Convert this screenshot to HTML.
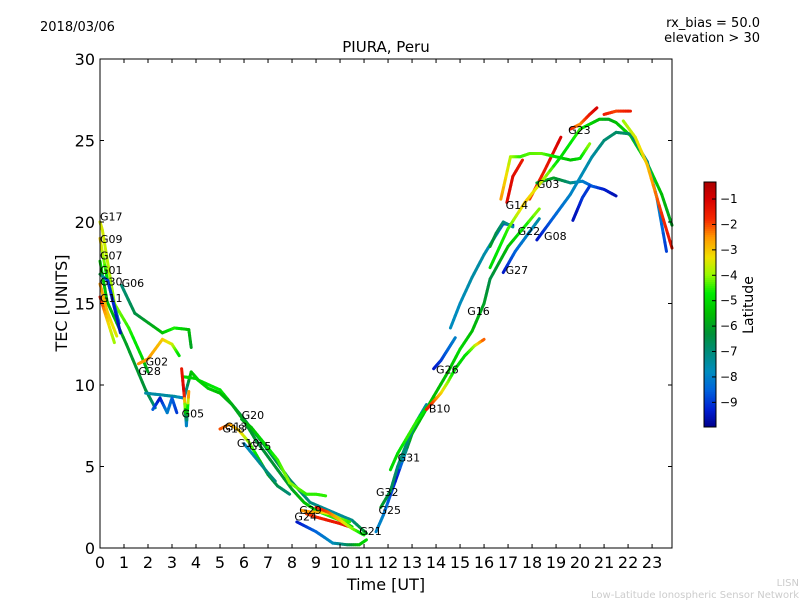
<!DOCTYPE html>
<html><head><meta charset="utf-8"><style>
html,body{margin:0;padding:0;background:#fff;}
svg{display:block;font-family:"DejaVu Sans","Liberation Sans",sans-serif;}
</style></head><body>
<svg id="chart" width="800" height="600" viewBox="0 0 800 600" xmlns="http://www.w3.org/2000/svg">
<rect width="800" height="600" fill="#fff"/>
<text x="40" y="31" font-size="13">2018/03/06</text>
<text x="760" y="27" font-size="13" text-anchor="end">rx_bias = 50.0</text>
<text x="760" y="42" font-size="13" text-anchor="end">elevation &gt; 30</text>
<text x="386" y="52" font-size="15" text-anchor="middle">PIURA, Peru</text>
<text x="386" y="590" font-size="16" text-anchor="middle">Time [UT]</text>
<text x="67" y="303" font-size="16" text-anchor="middle" transform="rotate(-90 67 303)">TEC [UNITS]</text>
<text x="799" y="586" font-size="10" fill="#ccc" text-anchor="end">LISN</text>
<text x="799" y="598" font-size="10" fill="#ccc" text-anchor="end">Low-Latitude Ionospheric Sensor Network</text>
<g id="plot"></g>
<rect x="100" y="59" width="572" height="489" fill="none" stroke="#000" stroke-width="1"/>
<g id="axes"></g>
<g id="cbar"></g>
</svg>
<script>
const xTicks=[0,1,2,3,4,5,6,7,8,9,10,11,12,13,14,15,16,17,18,19,20,21,22,23];
const yTicks=[0,5,10,15,20,25,30];
const cbTicks=[-1,-2,-3,-4,-5,-6,-7,-8,-9];
const trackLabels=["g17","g09","g07","g01","g30","g11","g06","g02","band-a","band-b","g05-a","g05-b","g13","g20","g15","g10-red","g24","g29","g21","g32","g25","g31","g10","g26","g16","g27","g22","g14","g14b","g03","rise-a","g08","g23","g23b","right-desc","blue-short","yellow-top"];
const trackTimes=[
[0,0.1,0.6,1.2,1.75,2],
[0,0.3,0.8],
[0,0.3,1.1,1.9,2.3],
[0,0.33,0.85],
[0,0.3,0.7],
[0,0.3,0.6],
[0.9,1.45,2.6,3.1,3.7,3.8],
[1.6,2,2.6,3,3.3],
[1.9,2.5,3.1,3.5,3.8,4.1,5,5.95,6.8,7.9,8.75,9.7,10.5,11.1],
[3.5,4,4.5,5,5.5,6,6.5,7,7.5,8,8.5,9,9.5,10,10.5],
[2.2,2.5,2.8,3,3.2],
[3.4,3.5,3.6,3.7],
[5,5.4,5.8,6.2,6.6,7,7.4,7.9],
[5.9,6.3,6.8,7.4,7.9,8.6,9,9.4],
[6,6.5,7,7.3],
[8.6,9,9.5,10,10.4],
[8.2,9,9.7,10.3,10.8,11.1],
[8.4,8.8,9.2,9.6,10,10.4],
[9,9.5,10,10.5,11],
[11.5,11.8,12.4,13,13.9,14.5,15,15.5,16,16.25,17,18.3],
[11.7,12.1,12.4,12.8,13.2,13.6],
[12.1,12.4,12.8,13.2,13.6,14],
[13.6,13.9,14.2,14.5,14.8,15.2,15.6,16],
[13.9,14.2,14.5,14.8],
[14.6,15,15.5,16,16.5,16.8,17.2],
[16.8,17.3,17.8,18.3],
[16.25,16.5,16.8,17.2],
[16.95,17.2,17.6],
[17.9,18.5,19.2],
[18.2,18.9,19.6,20.1,20.5,21,21.5],
[16.25,17,17.7,18.3,19.2,20,20.4,20.8,21.2,21.5,22.1,22.8,23.4,23.83],
[18.2,18.9,19.6,20.5,21,21.5,22.1,22.8,23.2,23.6],
[19.6,20,20.4,20.7],
[21,21.5,22.1],
[21.8,22.3,22.8,23.3,23.83],
[19.7,19.9,20.1,20.4],
[16.7,17.1,17.5,17.9,18.4,19,19.6,20,20.4]
];
const trackTec=[
[20,19.5,15,13.5,11.7,10.8],
[19,16.5,13.8],
[17.6,15.1,12.5,9.7,8.6],
[16.8,16.4,13.2],
[16.2,14.5,13],
[15.4,14,12.6],
[16.1,14.4,13.2,13.5,13.4,12.3],
[11.3,11.6,12.8,12.5,11.8],
[9.5,9.4,9.3,9.2,10.8,10.3,9.7,8,6.4,4.2,2.8,2.2,1.7,0.9],
[10.5,10.4,9.8,9.5,8.8,7.8,6.6,5.6,4.6,3.6,2.8,2.3,2,1.7,1.3],
[8.5,9.2,8.3,9.2,8.3],
[11,9.5,7.5,9.6],
[7.3,7.6,7.2,6.5,5.5,4.5,3.8,3.3],
[7.9,7.4,6.5,5.4,4,3.3,3.3,3.2],
[6.4,5.5,4.6,4.1],
[2.1,1.9,1.7,1.5,1.3],
[1.6,1,0.3,0.2,0.2,0.5],
[2.3,2.2,2.2,2.1,1.8,1.6],
[2.5,2.2,1.7,1.2,0.8],
[1,2,4.5,7,9.3,10.8,12.2,13.3,15,16.5,18.5,20.8],
[2.5,3.5,5,6.5,7.8,8.8],
[4.8,5.8,6.8,7.8,8.6,9.2],
[8.5,9,9.5,10.2,11,11.8,12.4,12.8],
[11,11.5,12.2,12.9],
[13.5,15,16.6,18,19.2,19.9,19.8],
[16.9,18.2,19.2,20.2],
[18.5,19.3,20,19.7],
[21.2,22.8,23.8],
[21.4,23.1,25.2],
[22.4,22.7,22.4,22.5,22.2,22,21.6],
[17.2,19.6,21.2,22.3,24,25.7,26,26.3,26.3,26.1,25.3,23.6,21.7,19.8],
[18.9,20.3,21.7,24,25,25.5,25.4,23.7,21.5,18.2],
[25.7,26,26.6,27],
[26.6,26.8,26.8],
[26.2,25.2,23.5,21,18.4],
[20.1,20.8,21.5,22.2],
[21.4,24,24,24.2,24.2,24,23.8,23.9,24.8]
];
const trackLat=[
[-3.5,-3.5,-4,-4.5,-5,-6],
[-3,-5,-8],
[-5,-5.5,-6,-6.3,-7],
[-6,-9,-9.6],
[-2.5,-3,-3.5],
[-1.5,-3,-4],
[-7,-6.5,-5.5,-4.5,-5.5,-6],
[-2.5,-2.5,-3,-3.5,-5],
[-7.5,-7.5,-7.4,-8,-5.5,-5,-4.7,-6.5,-6.5,-6.8,-7,-7.5,-7.2,-6],
[-5,-5.2,-5.2,-5.5,-5.8,-6,-6.2,-6.3,-6.2,-6,-5.5,-5,-4.5,-4.5,-5],
[-8.5,-9.5,-8,-8.5,-9],
[-1.5,-1,-8.5,-2],
[-2,-2.5,-3,-4,-5,-6,-6.5,-7],
[-6,-5.5,-5,-4.5,-4,-4.5,-4.5,-4.5],
[-8,-7.5,-7,-7],
[-2,-1.8,-1.5,-1.5,-1.2],
[-9.5,-8.5,-7.8,-6.8,-5.5,-5],
[-2.5,-2.5,-3,-3.5,-4,-4.5],
[-1.5,-2,-3,-4,-5],
[-8,-8,-9.5,-5.5,-5.5,-5.5,-5,-5.5,-6,-6.5,-5.5,-4],
[-6,-6.5,-7,-7,-7.2,-7.5],
[-5,-5,-4.5,-4.5,-5,-5],
[-1.5,-2,-3,-4,-5,-5,-4,-2],
[-9.5,-9,-8.5,-8],
[-7.8,-7.8,-7.5,-7.5,-8,-8.8,-9.5],
[-9.5,-8.5,-8,-7.5],
[-6,-6.5,-7,-7.5],
[-1.2,-1.2,-1.5],
[-2,-1.5,-1],
[-6,-6,-7,-8,-8.5,-9.3,-9.6],
[-5,-4.5,-3,-3.5,-5,-4.5,-5,-5.5,-6,-5.5,-5,-5,-5.5,-6],
[-9.5,-8.5,-8,-7.5,-7,-6.8,-6.8,-7.2,-7.8,-9],
[-1.5,-2.5,-1.5,-1],
[-1.5,-2,-1.5],
[-4,-3.5,-3,-2,-1.3],
[-9.5,-9.5,-9,-9],
[-2.5,-3.8,-4.5,-4.3,-4.2,-4.8,-5.5,-5,-4]
];
const lblText=["G17","G09","G07","G01","G30","G06","G11","G02","G28","G05","G18","G13","G20","G10","G15","G24","G29","G21","G32","G25","G31","B10","G26","G16","G27","G22","G14","G03","G08","G23"];
const lblT=[0,0,0,0,0,0.9,0,1.9,1.6,3.4,5.1,5.2,5.9,5.7,6.2,8.1,8.3,10.8,11.5,11.6,12.4,13.7,14,15.3,16.9,17.4,16.9,18.2,18.5,19.5];
const lblTec=[20.1,18.7,17.7,16.8,16.1,16,15.1,11.2,10.6,8,7.1,7.2,7.9,6.2,6,1.7,2.1,0.8,3.2,2.1,5.3,8.3,10.7,14.3,16.8,19.2,20.8,22.1,18.9,25.4];

const svg=document.getElementById('chart'),NS='http://www.w3.org/2000/svg';
const X0=100,X1=672,Y0=548,Y1=59,TMAX=23.83;
const xs=t=>X0+t*(X1-X0)/TMAX, ys=v=>Y0-v*(Y0-Y1)/30;
const CBY0=182,CBY1=427,LMAX=-0.33,LMIN=-9.97;
const cy=l=>CBY0+(LMAX-l)*(CBY1-CBY0)/(LMAX-LMIN);
const stops=[[-0.33,[170,0,0]],[-1,[215,0,0]],[-1.8,[245,40,0]],[-2.5,[255,150,0]],[-3.3,[240,225,0]],[-4,[150,250,0]],[-4.7,[0,235,0]],[-5.5,[0,190,0]],[-6.3,[0,145,55]],[-7,[0,140,120]],[-7.8,[0,140,190]],[-8.5,[0,100,220]],[-9.3,[0,30,210]],[-9.97,[0,0,140]]];
function cmap(l){l=Math.max(LMIN,Math.min(LMAX,l));
 for(let i=0;i<stops.length-1;i++){const a=stops[i],b=stops[i+1];
  if(l<=a[0]&&l>=b[0]){const f=(a[0]-l)/(a[0]-b[0]);
   const c=a[1].map((v,k)=>Math.round(v+(b[1][k]-v)*f));return `rgb(${c[0]},${c[1]},${c[2]})`;}}
 return 'rgb(0,0,140)';}
function el(tag,a,p){const e=document.createElementNS(NS,tag);for(const k in a)e.setAttribute(k,a[k]);(p||svg).appendChild(e);return e;}
const plot=document.getElementById('plot'),axes=document.getElementById('axes'),cb=document.getElementById('cbar');
trackTimes.forEach((ts,i)=>{
 const g=el('g',{},plot);
 
 
 const N=6;
 for(let j=0;j<ts.length-1;j++){for(let k=0;k<N;k++){
  const f0=k/N,f1=(k+1)/N;
  const t0=ts[j]+(ts[j+1]-ts[j])*f0,t1=ts[j]+(ts[j+1]-ts[j])*f1;
  const v0=trackTec[i][j]+(trackTec[i][j+1]-trackTec[i][j])*f0,v1=trackTec[i][j]+(trackTec[i][j+1]-trackTec[i][j])*f1;
  const l=trackLat[i][j]+(trackLat[i][j+1]-trackLat[i][j])*(f0+f1)/2;
  const s=el('line',{x1:xs(t0),y1:ys(v0),x2:xs(t1),y2:ys(v1),stroke:cmap(l),'stroke-width':3,'stroke-linecap':'round'},g);
  
  
 }}
});
lblText.forEach((s,i)=>{
 const t=el('text',{x:xs(lblT[i]),y:ys(lblTec[i]),'font-size':11},plot);
 
 
 t.textContent=s;
});
xTicks.forEach(v=>{const x=xs(v);
 el('line',{x1:x,y1:Y0,x2:x,y2:Y0-4,stroke:'#000'},axes);el('line',{x1:x,y1:Y1,x2:x,y2:Y1+4,stroke:'#000'},axes);
 const t=el('text',{x:x,y:568,'font-size':16,'text-anchor':'middle'},axes);
 
 
 t.textContent=v;});
yTicks.forEach(v=>{const y=ys(v);
 el('line',{x1:X0,y1:y,x2:X0+4,y2:y,stroke:'#000'},axes);el('line',{x1:X1,y1:y,x2:X1-4,y2:y,stroke:'#000'},axes);
 const t=el('text',{x:95,y:y+6,'font-size':16,'text-anchor':'end'},axes);
 
 
 t.textContent=v;});
for(let k=0;k<120;k++){const l0=LMAX-(LMAX-LMIN)*k/120,l1=LMAX-(LMAX-LMIN)*(k+1)/120;
 el('rect',{x:704,y:cy(l0),width:12,height:cy(l1)-cy(l0)+0.5,fill:cmap((l0+l1)/2)},cb);}
const fr=el('rect',{x:704,y:CBY0,width:12,height:CBY1-CBY0,fill:'none',stroke:'#000'},cb);


cbTicks.forEach(v=>{const y=cy(v);
 el('line',{x1:712,y1:y,x2:716,y2:y,stroke:'#000'},cb);
 const t=el('text',{x:720,y:y+4,'font-size':12},cb);
 
 
 t.textContent='\u2212'+(-v);});
const cl=el('text',{x:753,y:305,'font-size':14,'text-anchor':'middle',transform:'rotate(-90 753 305)'},cb);


cl.textContent='Latitude';
</script>
</body></html>
